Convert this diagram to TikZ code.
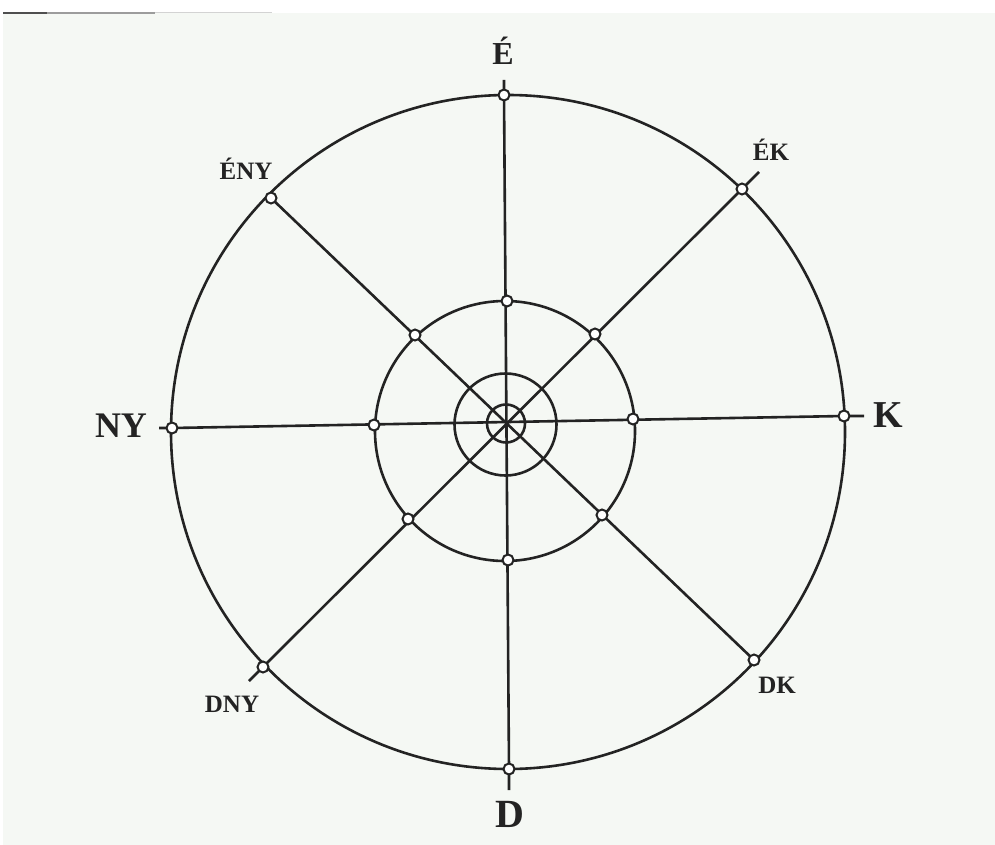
\documentclass[tikz,border=0pt]{standalone}
\usepackage{fontspec}
\setmainfont{Liberation Serif}
\definecolor{paper}{RGB}{245,248,244}
\definecolor{ink}{RGB}{35,35,35}
\begin{document}
\begin{tikzpicture}[x=1pt,y=-1pt,
  ln/.style={draw=ink,line width=2.6pt},
  pt/.style={circle,draw=ink,fill=white,line width=2pt,minimum size=11pt,inner sep=0pt},
  big/.style={font=\bfseries\fontsize{36}{40}\selectfont,text=ink,anchor=base,inner sep=0pt},
  small/.style={font=\bfseries\fontsize{25}{28}\selectfont,text=ink,anchor=base,inner sep=0pt}]
\useasboundingbox (0,0) rectangle (995,845);
\fill[white] (0,0) rectangle (995,845);
\fill[paper] (3,13) rectangle (995,845);
\draw[ink!80,line width=1.5pt] (3,13) -- (47,13);
\draw[ink!45,line width=1.2pt] (47,13) -- (155,13);
\draw[ink!20,line width=1pt] (155,13) -- (272,13);
% points
\coordinate (Eo) at (504,95);   \coordinate (Et) at (504,80);
\coordinate (EKo) at (742,189); \coordinate (EKt) at (759,172);
\coordinate (Ko) at (844,416);  \coordinate (Kt) at (864,416);
\coordinate (DKo) at (754,660);
\coordinate (Do) at (509,769);  \coordinate (Dt) at (509,790);
\coordinate (DNYo) at (263,667); \coordinate (DNYt) at (249,681);
\coordinate (NYo) at (172,428); \coordinate (NYt) at (159,428);
\coordinate (ENYo) at (271,198);
\coordinate (Em) at (507,301);
\coordinate (EKm) at (595,334);
\coordinate (Km) at (633,419);
\coordinate (DKm) at (602,515);
\coordinate (Dm) at (508,560);
\coordinate (DNYm) at (408,519);
\coordinate (NYm) at (374,425);
\coordinate (ENYm) at (415,335);
% circles
\draw[ln] (508,432) circle[radius=337];
\draw[ln] (505,431) circle[radius=130];
\draw[ln] (505.5,424.5) circle[radius=51];
\draw[ln] (506,423.5) circle[radius=19];
% spokes
\draw[ln] (Et) -- (Eo) -- (Do) -- (Dt);
\draw[ln] (NYt) -- (NYo) -- (Ko) -- (Kt);
\draw[ln] (ENYo) -- (DKo);
\draw[ln] (EKt) -- (EKo) -- (DNYo) -- (DNYt);
% markers
\foreach \p in {Eo,EKo,Ko,DKo,Do,DNYo,NYo,ENYo,Em,EKm,Km,DKm,Dm,DNYm,NYm,ENYm}
  \node[pt] (n\p) at (\p) {};
% labels
\node[big,font=\bfseries\fontsize{32}{36}\selectfont] (lE) at (503,65) {É};
\node[big,font=\bfseries\fontsize{38}{42}\selectfont] (lK) at (888,427) {K};
\node[big] (lNY) at (121,437) {NY};
\node[big,font=\bfseries\fontsize{40}{44}\selectfont] (lD) at (510,827) {D};
\node[small] (lENY) at (246,180) {ÉNY};
\node[small] (lEK) at (771,161) {ÉK};
\node[small] (lDNY) at (232,712) {DNY};
\node[small] (lDK) at (777,693) {DK};
\end{tikzpicture}
\end{document}
